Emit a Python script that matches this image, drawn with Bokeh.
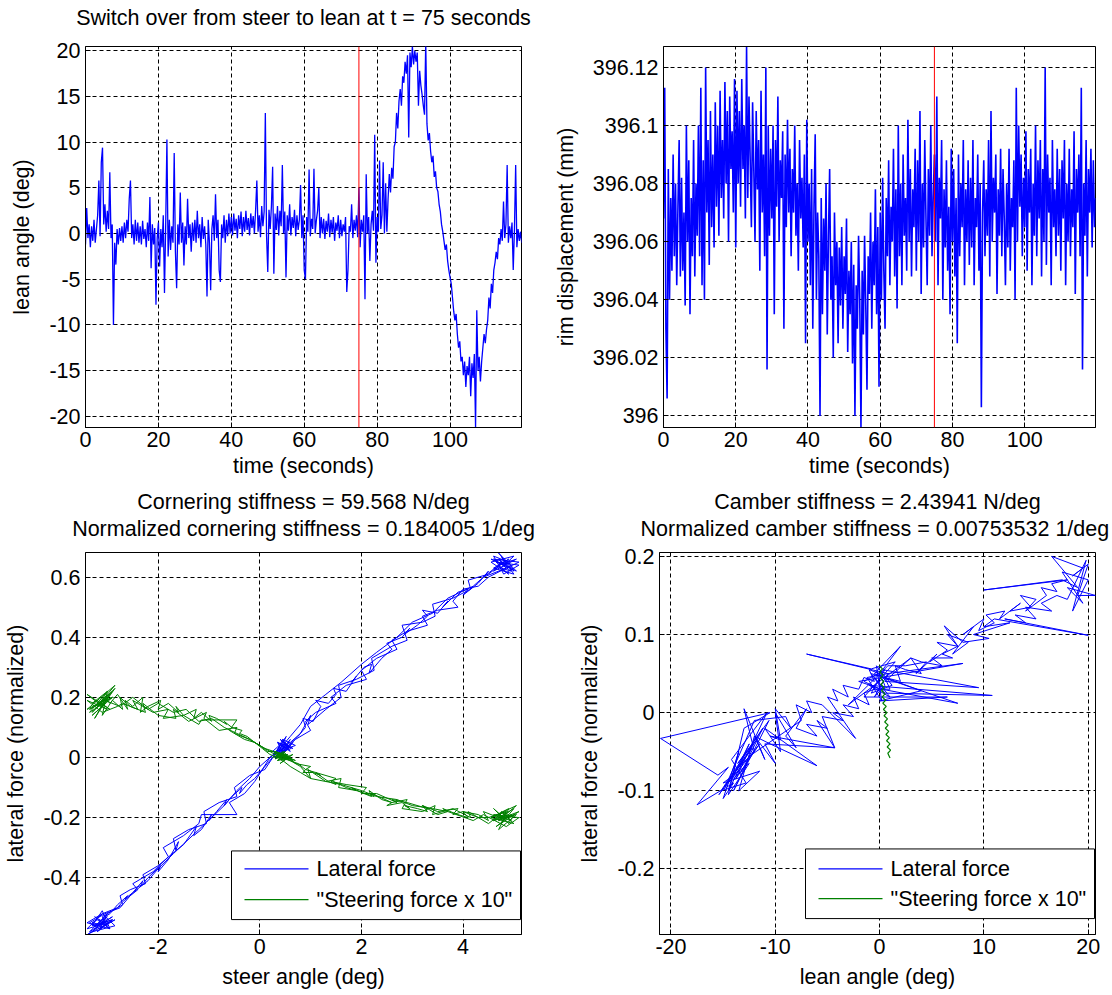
import numpy as np
from bokeh.plotting import figure
from bokeh.models import Range1d, FixedTicker, Span, Title
from bokeh.core.properties import value
from bokeh.layouts import column, row
from bokeh.embed import file_html
from bokeh.resources import INLINE

# ---------------- data ----------------
switch_time = 75.0
samples_per_second = 3

# lean angle (deg), 3 samples per second, rows of 5 s
lean_angle = [
    -1.2, 2.8, -0.5, 1.0, -1.5, 0.8, -0.8, 1.5, -1.0, 0.5, 2.0, 5.8, -0.3, 7.8, 9.4,
    1.0, 3.2, 0.2, 2.5, 0.5, 6.7, -0.5, 1.0, -10.0, -1.0, -3.4, 0.5, -1.2, 0.6, -0.8,
    0.8, -1.0, 1.2, -0.5, 1.5, 0.2, 3.8, 5.8, -0.5, 1.0, -1.2, 1.5, -0.8, 1.2, -1.0,
    0.8, -1.2, 1.4, -0.6, 0.5, -1.5, 1.2, -0.8, 4.0, -3.8, 1.0, -1.2, 0.6, -7.8, -0.5,
    1.2, -3.6, 0.5, -1.5, 2.0, -6.5, 1.0, 10.3, -2.5, 1.5, -1.8, 0.8, -1.0, 8.8, -2.0,
    -6.0, 1.0, -1.2, 4.5, -1.0, 1.2, -3.5, 0.8, -1.2, 3.8, -0.5, 1.0, -2.0, 1.2, -0.8,
    1.5, -1.0, 2.5, -0.5, 1.0, -1.5, 1.8, -0.6, 0.8, -1.2, -6.9, 1.5, -1.0, -6.2, 0.5,
    2.0, -0.8, 4.3, -0.5, 1.5, -4.0, -5.3, 1.0, -0.5, 2.0, -1.0, 1.5, -0.3, 2.2, 0.0,
    1.8, -0.2, 2.2, 0.3, 1.6, -0.5, 2.0, 0.5, 2.4, -0.3, 1.8, 0.2, 2.5, 0.4, 1.7,
    -0.2, 2.2, 0.6, 1.9, 0.0, 2.6, 5.8, 0.2, 2.0, -0.4, 3.0, 0.8, 2.4, 13.2, -0.2,
    -4.2, 2.6, 0.5, 3.0, 7.3, -4.4, 2.2, 0.4, 3.0, -0.2, 2.5, 0.8, 7.5, 0.0, 2.4,
    -4.8, 2.0, 0.3, 3.2, -0.2, 1.8, 0.6, 2.6, -0.3, 2.0, 0.4, 1.5, 5.3, -0.5, 2.0,
    -4.0, -5.0, 1.8, 0.2, 7.0, -0.3, 1.6, 0.5, 7.1, 0.0, 1.5, 2.5, 5.0, -0.5, 1.8,
    0.0, 1.6, -0.6, 1.4, 0.2, 2.2, -0.4, 1.5, 0.1, 1.8, -0.8, 1.2, 0.3, 2.0, -0.5,
    1.5, -0.3, 1.0, 0.2, 1.8, -6.4, -4.0, 0.8, 0.2, 3.2, -0.5, 1.5, 0.3, 2.0, -0.4,
    5.0, -1.5, 1.5, 0.2, 2.0, -7.2, 6.5, 0.0, 1.8, -3.0, 1.0, 2.5, 0.3, 10.8, -3.2,
    1.8, 0.2, 8.0, 0.5, 2.0, 7.8, 0.0, 5.5, 0.2, 3.8, 6.5, 4.5, 7.2, 6.0, 9.5,
    10.0, 13.2, 11.5, 14.5, 15.8, 14.0, 17.2, 16.5, 18.8, 17.5, 19.5, 10.5, 19.8, 18.2, 20.5,
    18.5, 20.0, 18.8, 19.8, 14.0, 17.8, 16.2, 15.2, 14.0, 13.0, 21.0, 12.0, 10.2, 11.0, 9.0,
    7.8, 8.5, 6.2, 6.8, 5.0, 4.6, 3.2, 2.4, 1.0, 0.2, -0.8, -1.8, -1.2, -3.0, -4.0,
    -4.8, -5.5, -7.0, -8.5, -9.5, -8.8, -11.0, -12.5, -11.8, -14.0, -13.5, -15.5, -14.0, -16.8, -14.5,
    -15.5, -13.5, -17.8, -14.2, -15.8, -13.2, -21.2, -8.4, -15.0, -13.5, -16.2, -14.0, -12.5, -11.0, -12.0,
    -10.5, -9.5, -7.0, -8.2, -5.5, -6.5, -4.0, -3.2, -2.0, -2.8, -0.5, -1.2, 0.5, -0.8, 3.5,
    -0.5, 1.0, 7.5, -1.0, 0.8, -0.5, 1.2, -4.0, 0.5, 7.5, -1.5, 0.5, -0.8, 0.2, -1.0,
]

# rim displacement above 396 mm, in micrometres, 3 samples per second
rim_base_mm = 396.0
rim_offset_um = [
    68, 113, 30, 6, 85, 40, 75, 50, 90, 55, 80, 45, 72, 95, 48,
    82, 50, 70, 38, 100, 60, 88, 35, 75, 55, 95, 48, 80, 62, 100,
    55, 113, 45, 88, 40, 120, 70, 95, 52, 105, 65, 90, 58, 108, 72,
    100, 62, 112, 75, 95, 68, 115, 80, 105, 60, 110, 85, 98, 70, 116,
    58, 112, 80, 105, 72, 116, 85, 100, 68, 127, 75, 110, 88, 65, 108,
    85, 60, 105, 78, 95, 50, 112, 70, 90, 55, 120, 16, 100, 62, 92,
    68, 100, 35, 95, 72, 110, 60, 88, 75, 98, 30, 90, 65, 102, 70,
    92, 55, 85, 70, 100, 62, 80, 50, 95, 68, 82, 58, 90, 25, 102,
    60, 80, 45, 85, 30, 72, 97, 40, 70, 55, 0, 75, 35, 68, 50,
    80, 28, 62, 85, 40, 55, 20, 70, 45, 60, 25, 58, 38, 65, 30,
    55, 42, 68, 22, 50, 35, 60, 18, 52, 0, 45, 30, 62, 40, -4,
    50, 28, 62, 38, 9, 55, 42, 70, 30, 60, 45, 78, 35, 65, 10,
    70, 40, 82, 50, 30, 75, 55, 88, 45, 72, 60, 92, 48, 78, 37,
    100, 55, 80, 45, 90, 62, 75, 50, 102, 60, 85, 48, 78, 65, 92,
    50, 88, 60, 105, 42, 80, 58, 95, 68, 45, 85, 62, 100, 55, 75,
    90, 60, 110, 45, 82, 68, 95, 40, 78, 58, 88, 50, 72, 35, 92,
    60, 85, 48, 75, 25, 90, 55, 80, 65, 95, 45, 78, 60, 88, 52,
    82, 58, 95, 45, 75, 65, 90, 50, 80, 3, 70, 88, 55, 78, 62,
    95, 48, 105, 60, 82, 70, 90, 42, 78, 62, 92, 55, 85, 68, 45,
    80, 58, 92, 50, 75, 65, 88, 40, 113, 60, 100, 72, 90, 55, 82,
    65, 98, 50, 85, 70, 92, 45, 80, 62, 100, 55, 88, 68, 95, 48,
    85, 60, 120, 52, 90, 70, 82, 45, 95, 65, 78, 55, 92, 62, 85,
    50, 88, 68, 95, 45, 80, 60, 92, 55, 78, 65, 98, 42, 85, 70,
    90, 55, 113, 16, 80, 62, 95, 48, 85, 70, 92, 58, 88, 65, 75,
]

# steer phase, first sweep: steer angle (deg), lateral force, steering force x 10 (normalized)
steer_angle_1 = [
    0.35, 0.5, 0.42, 0.6, 0.3, 0.55, 0.45, 0.7, 0.38, 0.52, 0.28, 0.62, 0.48, 0.4, 0.58,
    0.75, 0.9, 0.85, 1.05, 1.2, 1.1, 1.35, 1.5, 1.45, 1.7, 1.9, 1.8, 2.05, 2.2, 2.15, 2.4, 2.6,
    2.5, 2.8, 2.95, 2.85, 3.1, 3.3, 3.2, 3.5, 3.7, 3.6, 3.9, 4.1, 4.0, 4.3, 4.5, 4.4, 4.7,
    4.9, 4.6, 5.0, 4.75, 4.85, 4.55, 5.05, 4.7, 4.95, 4.65, 5.1, 4.8, 4.6, 4.9, 5.0, 4.7, 4.85, 4.5,
    4.3, 4.0, 3.8, 3.9, 3.5, 3.2, 3.3, 2.9, 2.6, 2.7, 2.3, 2.0, 2.1, 1.7, 1.4, 1.5, 1.1, 0.9, 1.0, 0.7,
    0.5, 0.35, 0.6, 0.45, 0.3, 0.55, 0.4, 0.65, 0.5, 0.3,
    0.15, 0.0, -0.1, -0.25, -0.4, -0.35, -0.55, -0.7, -0.65, -0.85, -1.0, -0.95, -1.15, -1.3, -1.25,
    -1.5, -1.65, -1.6, -1.8, -2.0, -1.95, -2.2, -2.35, -2.3, -2.5, -2.65, -2.6, -2.8, -2.95, -3.05,
    -3.2, -2.9, -3.35, -3.0, -3.15, -2.85, -3.4, -3.05, -3.25, -2.95, -3.1, -3.3, -2.9, -3.2, -3.0, -3.4, -3.1, -2.8,
    -2.7, -2.4, -2.5, -2.1, -1.8, -1.9, -1.5, -1.2, -1.15, -0.45, -0.6, -0.3, -0.1, 0.05, 0.2, 0.35,
]
lateral_force_1 = [
    0.02, 0.05, 0.01, 0.06, 0.0, 0.03, 0.06, 0.04, 0.02, 0.07, 0.01, 0.03, 0.05, 0.0, 0.04,
    0.07, 0.10, 0.13, 0.12, 0.17, 0.19, 0.18, 0.21, 0.23, 0.22, 0.27, 0.25, 0.30, 0.31, 0.28, 0.33, 0.36,
    0.38, 0.40, 0.43, 0.41, 0.44, 0.47, 0.49, 0.48, 0.52, 0.50, 0.55, 0.56, 0.54, 0.58, 0.62, 0.60, 0.64,
    0.66, 0.63, 0.61, 0.67, 0.64, 0.66, 0.62, 0.68, 0.63, 0.65, 0.64, 0.61, 0.67, 0.65, 0.62, 0.66, 0.63, 0.60,
    0.57, 0.56, 0.52, 0.50, 0.49, 0.47, 0.44, 0.42, 0.39, 0.36, 0.33, 0.29, 0.26, 0.24, 0.20, 0.18, 0.15, 0.12, 0.09, 0.06,
    0.03, 0.05, 0.02, 0.06, 0.01, 0.04, 0.0, 0.05, 0.02, 0.01,
    -0.02, -0.05, -0.07, -0.09, -0.12, -0.10, -0.13, -0.16, -0.14, -0.18, -0.21, -0.19, -0.24, -0.26, -0.23,
    -0.29, -0.31, -0.28, -0.34, -0.38, -0.36, -0.40, -0.43, -0.41, -0.45, -0.47, -0.46, -0.49, -0.52, -0.53,
    -0.56, -0.53, -0.58, -0.52, -0.57, -0.54, -0.59, -0.55, -0.53, -0.57, -0.51, -0.56, -0.54, -0.58, -0.55, -0.57, -0.52, -0.50,
    -0.48, -0.44, -0.42, -0.38, -0.33, -0.30, -0.26, -0.22, -0.19, -0.19, -0.15, -0.12, -0.08, -0.04, 0.0, 0.02,
]
steering_force_x10_1 = [
    0.0, 0.01, -0.01, 0.0, 0.02, -0.005, 0.01, -0.01, 0.005, 0.0, 0.015, -0.005, 0.0, 0.01, -0.01,
    -0.02, -0.04, -0.05, -0.05, -0.06, -0.05, -0.08, -0.09, -0.08, -0.10, -0.11, -0.10, -0.12, -0.13, -0.11, -0.14, -0.15,
    -0.16, -0.15, -0.17, -0.16, -0.17, -0.18, -0.16, -0.19, -0.18, -0.17, -0.19, -0.20, -0.18, -0.19, -0.21, -0.18, -0.20,
    -0.19, -0.21, -0.17, -0.22, -0.18, -0.20, -0.16, -0.21, -0.19, -0.23, -0.18, -0.20, -0.17, -0.22, -0.19, -0.21, -0.18, -0.20,
    -0.20, -0.18, -0.19, -0.17, -0.18, -0.16, -0.17, -0.15, -0.14, -0.15, -0.12, -0.12, -0.10, -0.09, -0.08, -0.07, -0.05, -0.04, -0.03, -0.02,
    0.01, -0.01, 0.0, 0.02, -0.005, 0.01, 0.0, -0.01, 0.01, 0.02,
    0.02, 0.04, 0.05, 0.07, 0.08, 0.09, 0.10, 0.12, 0.11, 0.13, 0.14, 0.12, 0.15, 0.13, 0.16,
    0.14, 0.17, 0.15, 0.18, 0.16, 0.19, 0.17, 0.15, 0.20, 0.17, 0.19, 0.16, 0.21, 0.18, 0.20,
    0.17, 0.20, 0.15, 0.22, 0.18, 0.24, 0.16, 0.19, 0.13, 0.21, 0.17, 0.14, 0.20, 0.18, 0.16, 0.19, 0.15, 0.17,
    0.18, 0.16, 0.19, 0.15, 0.16, 0.13, 0.14, 0.11, 0.125, 0.125, 0.09, 0.06, 0.05, 0.03, 0.01, 0.0,
]
# steer phase, second sweep
steer_angle_2 = [
    0.6, 0.8, 1.0, 0.95, 1.3, 1.6, 1.55, 1.9, 2.25, 2.2, 2.6, 2.9, 2.8, 3.2, 3.45, 3.4, 3.8, 4.15, 4.1, 4.5,
    4.8, 4.6, 5.05, 4.7, 4.9, 4.55, 5.0, 4.75, 4.95, 4.6, 5.1, 4.85,
    4.4, 4.2, 3.7, 3.4, 3.0, 2.7, 2.3, 2.0, 1.6, 1.3, 1.0, 0.8, 0.6, 0.45,
    0.3, 0.55, 0.4, 0.65, 0.35, 0.5, 0.25, 0.45,
    0.1, -0.2, -0.5, -0.45, -0.8, -1.1, -1.05, -1.4, -1.7, -1.65, -2.0, -2.3, -2.25, -2.55, -2.75, -2.7, -2.9, -3.1, -3.0, -3.3,
    -3.2, -2.95, -3.4, -3.1, -2.85, -3.3, -3.0, -3.25, -2.9, -3.15, -3.35, -3.05,
    -2.75, -2.5, -2.2, -2.0, -1.7, -1.45, -1.2, -0.95, -0.7, -0.45, -0.2, 0.0, 0.2, 0.4,
]
lateral_force_2 = [
    0.05, 0.08, 0.14, 0.11, 0.16, 0.20, 0.24, 0.26, 0.29, 0.33, 0.37, 0.39, 0.44, 0.45, 0.47, 0.51, 0.53, 0.56, 0.59, 0.61,
    0.65, 0.62, 0.66, 0.64, 0.61, 0.65, 0.67, 0.63, 0.62, 0.66, 0.65, 0.63,
    0.6, 0.57, 0.53, 0.48, 0.45, 0.40, 0.35, 0.31, 0.25, 0.21, 0.17, 0.11, 0.07, 0.04,
    0.01, 0.04, 0.06, 0.03, 0.05, 0.0, 0.02, 0.05,
    -0.04, -0.06, -0.10, -0.13, -0.15, -0.18, -0.22, -0.24, -0.27, -0.31, -0.36, -0.39, -0.42, -0.44, -0.46, -0.49, -0.51, -0.53, -0.56, -0.55,
    -0.54, -0.57, -0.55, -0.52, -0.56, -0.58, -0.53, -0.56, -0.54, -0.57, -0.55, -0.52,
    -0.5, -0.45, -0.41, -0.37, -0.32, -0.28, -0.24, -0.2, -0.16, -0.11, -0.07, -0.03, 0.0, 0.03,
]
steering_force_x10_2 = [
    -0.01, -0.03, -0.07, -0.04, -0.08, -0.07, -0.10, -0.11, -0.13, -0.12, -0.15, -0.14, -0.17, -0.18, -0.16, -0.19, -0.17, -0.2, -0.18, -0.22,
    -0.18, -0.21, -0.19, -0.24, -0.17, -0.2, -0.22, -0.18, -0.21, -0.19, -0.2, -0.23,
    -0.19, -0.21, -0.18, -0.17, -0.16, -0.14, -0.13, -0.11, -0.09, -0.08, -0.07, -0.05, -0.03, -0.01,
    0.02, 0.0, -0.02, 0.01, -0.01, 0.02, 0.0, 0.01,
    0.03, 0.06, 0.08, 0.1, 0.09, 0.13, 0.15, 0.12, 0.16, 0.13, 0.14, 0.18, 0.15, 0.17, 0.2, 0.16, 0.19, 0.14, 0.22, 0.18,
    0.19, 0.16, 0.21, 0.17, 0.23, 0.15, 0.2, 0.17, 0.22, 0.18, 0.16, 0.19,
    0.17, 0.2, 0.16, 0.18, 0.15, 0.16, 0.12, 0.13, 0.1, 0.08, 0.06, 0.04, 0.02, 0.0,
]

# lean phase: lean angle (deg) vs lateral force (normalized)
lean_phase_angle = [
    0.5, -0.5, 1.0, -1.0, 10.8, 0.5, -0.8, 7.5, 0.2, -2.0, 8.0, 0.8, -7.0, -0.8, 1.5, -1.5, 6.5, 0.0,
    4.0, -0.5, 2.0, 0.3, 9.5, 0.5, 3.0, -3.0, 0.8,
    2.5, 4.5, 3.5, 5.5, 4.8, 6.5, 5.5, 7.5, 6.5, 8.5, 7.0, 9.0, 8.0, 10.0, 9.5, 11.0, 10.2, 12.0,
    11.5, 13.5, 12.5, 14.5, 13.5, 15.0, 14.0, 16.0, 15.5, 17.0, 16.5, 18.0, 10.0, 17.5, 19.0, 16.5,
    19.5, 18.5, 20.0, 19.0, 20.7, 18.0, 19.5, 17.5, 20.0, 18.5, 19.8, 18.0,
    17.0, 15.5, 16.5, 14.0, 15.0, 13.0, 14.0, 12.0, 20.0, 11.0, 10.0, 12.5, 9.0, 10.5, 8.0, 6.2,
    7.5, 6.0, 7.0, 5.0, 6.0, 4.0, 3.0, 4.0, 2.5, 1.5, 2.0, 0.5, 1.0, -0.5,
    -1.5, -1.0, -2.5, -2.0, -3.5, -2.5, -4.5, -3.5, -5.5, -4.3, -6.0, -5.0, -7.0, -6.0, -8.0, -7.0,
    -9.0, -8.0, -10.0, -9.5, -11.0, -6.0, -10.5, -12.0, -11.0, -13.0, -12.0, -13.5, -12.5, -14.0,
    -13.0, -14.5, -13.5, -15.0, -14.0, -17.5, -14.5, -15.5, -21.0, -10.5, -13.0, -14.5, -12.5, -15.0,
    -11.5, -13.5, -12.0, -10.0, -11.0, -4.3, -10.5, -9.5, -10.0, -8.5, -9.0,
    -12.0, -14.8, -11.5, -13.8, -10.8, -14.2, -12.8, -15.2, -11.2, -13.2, -14.6, -12.2, -15.4, -11.8,
    -13.6, -10.6, -14.0, -12.4,
    -7.5, -8.0, -6.5, -7.0, -5.5, -2.3, -5.0, -4.0, -4.5, -3.0, -3.5, -2.0, -1.5, -0.5, -1.0, 0.0, 0.5,
    -0.5, 0.8, -1.2, 0.2, -0.3, 1.2, -0.8, 0.5, -1.5, 0.0,
]
lateral_force_lean = [
    0.03, 0.045, 0.02, 0.035, 0.022, 0.025, 0.05, 0.012, 0.03, 0.04, 0.063, 0.05, 0.075, 0.056, 0.065, 0.02, 0.02, 0.015,
    0.028, 0.05, 0.085, 0.055, 0.032, 0.04, 0.07, 0.01, 0.06,
    0.06, 0.065, 0.05, 0.075, 0.065, 0.08, 0.09, 0.085, 0.1, 0.09, 0.075, 0.11, 0.1, 0.12, 0.105, 0.115, 0.125, 0.13,
    0.12, 0.14, 0.13, 0.135, 0.15, 0.145, 0.13, 0.15, 0.16, 0.155, 0.165, 0.17, 0.157, 0.17, 0.16, 0.2,
    0.185, 0.175, 0.19, 0.15, 0.15, 0.16, 0.14, 0.18, 0.17, 0.13, 0.195, 0.145,
    0.15, 0.14, 0.13, 0.135, 0.12, 0.125, 0.115, 0.12, 0.099, 0.12, 0.11, 0.115, 0.1, 0.095, 0.09, 0.111,
    0.085, 0.075, 0.07, 0.07, 0.06, 0.065, 0.07, 0.05, 0.055, 0.06, 0.04, 0.045, 0.03, 0.03,
    0.025, 0.01, 0.02, 0.005, 0.01, -0.005, 0.0, -0.01, -0.005, -0.045, -0.01, -0.02, -0.015, -0.03, -0.02, 0.005,
    -0.03, -0.045, 0.0, -0.05, -0.02, -0.068, -0.04, -0.03, -0.06, 0.005, -0.05, -0.07, -0.04, -0.08,
    -0.06, -0.1, -0.05, -0.11, -0.09, -0.118, -0.07, -0.08, -0.033, 0.0, -0.02, -0.105, -0.065, -0.09,
    -0.075, -0.1, -0.03, -0.065, -0.04, -0.045, -0.03, -0.035, 0.005, -0.02, -0.005,
    -0.01, -0.095, -0.04, -0.085, 0.0, -0.06, -0.09, -0.1, -0.02, -0.075, -0.09, -0.045, -0.105, -0.035,
    -0.065, -0.01, -0.1, -0.055,
    -0.01, 0.01, 0.0, 0.015, 0.01, -0.033, 0.02, 0.015, 0.03, 0.02, 0.035, 0.03, 0.045, 0.04, 0.055, 0.05, 0.035,
    0.02, 0.05, 0.045, 0.015, 0.06, 0.035, 0.025, 0.055, 0.04, 0.03,
]
steer_force_lean_x = [-0.05, 0.28, 0.01, 0.34, 0.07, 0.4, 0.13, 0.46, 0.19, 0.52,
                      0.25, 0.58, 0.31, 0.64, 0.37, 0.7, 0.43, 0.76, 0.49, 0.82,
                      0.55, 0.88, 0.61, 0.94, 0.67, 1.0, 0.73, 1.06, 0.79, 1.0]
steer_force_lean_y = [0.060, 0.056, 0.052, 0.048, 0.044, 0.040, 0.036, 0.032, 0.028, 0.024,
                      0.020, 0.016, 0.012, 0.008, 0.004, 0.000, -0.004, -0.008, -0.012, -0.016,
                      -0.020, -0.024, -0.028, -0.032, -0.036, -0.040, -0.044, -0.048, -0.052, -0.058]

legend_labels = ["Lateral force", '"Steering force x 10"']

time_ticks = [0, 20, 40, 60, 80, 100]
lean_ticks = [-20, -15, -10, -5, 0, 5, 10, 15, 20]
rim_ticks = [396.0, 396.02, 396.04, 396.06, 396.08, 396.1, 396.12]
rim_tick_labels = ["396", "396.02", "396.04", "396.06", "396.08", "396.1", "396.12"]
steer_ticks = [-2, 0, 2, 4]
force_ticks_steer = [-0.4, -0.2, 0, 0.2, 0.4, 0.6]
lean_x_ticks = [-20, -10, 0, 10, 20]
force_ticks_lean = [-0.2, -0.1, 0, 0.1, 0.2]

time_s = np.arange(len(lean_angle)) / samples_per_second
rim_mm = rim_base_mm + np.array(rim_offset_um) / 1000.0
steer_angle = steer_angle_1 + steer_angle_2
lateral_force_steer = lateral_force_1 + lateral_force_2
steering_force_x10 = steering_force_x10_1 + steering_force_x10_2

# ---------------- styling ----------------
FONT = "Liberation Sans"
FS = "21.5px"
BLUE = "#0000FF"
GREEN = "#008000"
RED = "#FF0000"
FRAME_W = 436
FRAME_H = 384


def fmt(v):
    return "%g" % v


def make_fig(w, h, bl, br, bt, bb, xr, yr):
    p = figure(width=w, height=h, x_range=Range1d(*xr), y_range=Range1d(*yr),
               output_backend="svg", toolbar_location=None, title=None,
               min_border_left=bl, min_border_right=br, min_border_top=bt, min_border_bottom=bb)
    p.background_fill_color = "white"
    p.border_fill_color = "white"
    p.outline_line_color = "black"
    p.outline_line_width = 1
    return p


def style(p, xt, xl, yt, yl, xlabel, ylabel, xlab_standoff):
    p.xaxis.ticker = FixedTicker(ticks=xt)
    p.yaxis.ticker = FixedTicker(ticks=yt)
    p.xaxis.major_label_overrides = {t: l for t, l in zip(xt, xl)}
    p.yaxis.major_label_overrides = {t: l for t, l in zip(yt, yl)}
    p.xaxis.axis_label = xlabel
    p.yaxis.axis_label = ylabel
    for ax in (p.xaxis[0], p.yaxis[0]):
        ax.major_label_text_font = FONT
        ax.major_label_text_font_size = FS
        ax.major_label_text_color = "black"
        ax.axis_label_text_font = FONT
        ax.axis_label_text_font_size = FS
        ax.axis_label_text_font_style = "normal"
        ax.axis_label_text_color = "black"
        ax.axis_line_color = "black"
        ax.major_tick_line_color = "black"
        ax.major_tick_in = 5
        ax.major_tick_out = 0
        ax.minor_tick_line_color = None
    p.xaxis.major_label_standoff = 4
    p.yaxis.major_label_standoff = 5
    p.xaxis.axis_label_standoff = xlab_standoff
    p.yaxis.axis_label_standoff = 12
    for g in (p.xgrid[0], p.ygrid[0]):
        g.grid_line_color = "black"
        g.grid_line_dash = "4 3"
        g.grid_line_width = 1
        g.grid_line_alpha = 1.0


def add_spacer(p, size):
    p.add_layout(Title(text=" ", text_font=FONT, text_font_size=size, standoff=0), "above")


def add_title(p, text, align="center", offset=0, standoff=0):
    p.add_layout(Title(text=text, align=align, offset=offset, text_font=FONT, text_font_size=FS,
                       text_font_style="normal", text_color="black", standoff=standoff), "above")


def draw_legend(p, xr, yr, left, bottom, width, height, rows, colors):
    """Legend box drawn at frame-pixel offsets (converted to data units)."""
    def dx(px):
        return xr[0] + px / FRAME_W * (xr[1] - xr[0])

    def dy(py):
        return yr[0] + py / FRAME_H * (yr[1] - yr[0])

    # white box (fill only), then its border as a separate closed line
    p.quad(left=[dx(left)], right=[dx(left + width)], bottom=[dy(bottom)], top=[dy(bottom + height)],
           fill_color="white", line_color=None)
    p.line([dx(left), dx(left + width), dx(left + width), dx(left), dx(left)],
           [dy(bottom), dy(bottom), dy(bottom + height), dy(bottom + height), dy(bottom)],
           line_color="black", line_width=1)
    for col, ry in zip(colors, rows):
        p.line([dx(left + 13), dx(left + 77)], [dy(ry), dy(ry)], line_color=col, line_width=1.2)
    p.text(x=[dx(left + 85)] * len(rows), y=[dy(ry) for ry in rows], text=legend_labels,
           text_font=value(FONT), text_font_size=value(FS), text_color="black",
           text_baseline="middle", text_align="left")


# ---------------- top-left ----------------
p1 = make_fig(550, 486, 85, 29, 46, 59, (0, 119.6), (-21.23, 20.47))
style(p1, time_ticks, [fmt(v) for v in time_ticks], lean_ticks, [fmt(v) for v in lean_ticks],
      "time (seconds)", "lean angle (deg)", 4)
p1.line(time_s, lean_angle, line_color=BLUE, line_width=1.3)
p1.add_layout(Span(location=switch_time, dimension="height", line_color=RED, line_width=1))
add_spacer(p1, "13px")
add_title(p1, "Switch over from steer to lean at t = 75 seconds")

# ---------------- top-right ----------------
p2 = make_fig(562, 486, 109, 17, 46, 59, (0, 119.6), (395.996, 396.1272))
style(p2, time_ticks, [fmt(v) for v in time_ticks], rim_ticks, rim_tick_labels,
      "time (seconds)", "rim displacement (mm)", 4)
p2.line(time_s, rim_mm, line_color=BLUE, line_width=1.6)
p2.add_layout(Span(location=switch_time, dimension="height", line_color=RED, line_width=1))

# ---------------- bottom-left ----------------
xr3, yr3 = (-3.43, 5.15), (-0.589, 0.682)
p3 = make_fig(550, 509, 85, 29, 64, 61, xr3, yr3)
style(p3, steer_ticks, [fmt(v) for v in steer_ticks], force_ticks_steer, [fmt(v) for v in force_ticks_steer],
      "steer angle (deg)", "lateral force (normalized)", 8)
p3.line(steer_angle, lateral_force_steer, line_color=BLUE, line_width=1)
p3.line(steer_angle, steering_force_x10, line_color=GREEN, line_width=1)
draw_legend(p3, xr3, yr3, 146, 15, 289, 69, [66, 35], [BLUE, GREEN])
add_spacer(p3, "9px")
add_title(p3, "Normalized cornering stiffness = 0.184005 1/deg")
add_title(p3, "Cornering stiffness = 59.568 N/deg", standoff=2)

# ---------------- bottom-right ----------------
xr4, yr4 = (-21.1, 20.7), (-0.284, 0.205)
p4 = make_fig(562, 509, 109, 17, 64, 61, xr4, yr4)
style(p4, lean_x_ticks, [fmt(v) for v in lean_x_ticks], force_ticks_lean, [fmt(v) for v in force_ticks_lean],
      "lean angle (deg)", "lateral force (normalized)", 8)
p4.line(lean_phase_angle, lateral_force_lean, line_color=BLUE, line_width=1)
p4.line(steer_force_lean_x, steer_force_lean_y, line_color=GREEN, line_width=1.2)
draw_legend(p4, xr4, yr4, 146, 16, 289, 70, [66, 36], [BLUE, GREEN])
add_spacer(p4, "9px")
add_title(p4, "Normalized camber stiffness = 0.00753532 1/deg", align="left", offset=-19)
add_title(p4, "Camber stiffness = 2.43941 N/deg", standoff=2)

layout = column(row(p1, p2), row(p3, p4))
open("out.html", "w").write(file_html(layout, INLINE))
